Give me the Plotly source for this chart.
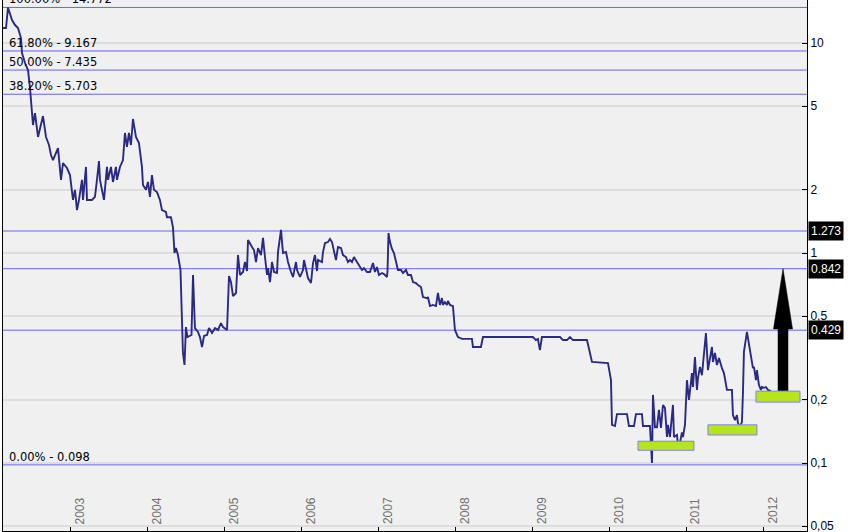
import math
import plotly.graph_objects as go

# ---------------- data ----------------
years = [2002.116, 2002.155, 2002.181, 2002.233, 2002.272, 2002.311, 2002.350, 2002.363, 2002.402, 2002.428,
         2002.441, 2002.467, 2002.493, 2002.506, 2002.532, 2002.571, 2002.636, 2002.675, 2002.714, 2002.740,
         2002.766, 2002.831, 2002.870, 2002.896, 2002.948, 2002.987, 2003.026, 2003.052, 2003.078, 2003.104,
         2003.143, 2003.156, 2003.195, 2003.208, 2003.273, 2003.312, 2003.338, 2003.364, 2003.377, 2003.403,
         2003.429, 2003.468, 2003.481, 2003.520, 2003.546, 2003.585, 2003.598, 2003.637, 2003.676, 2003.702,
         2003.728, 2003.754, 2003.780, 2003.806, 2003.845, 2003.884, 2003.923, 2003.936, 2003.975, 2004.001,
         2004.027, 2004.053, 2004.079, 2004.118, 2004.157, 2004.183, 2004.235, 2004.248, 2004.300, 2004.326,
         2004.333, 2004.346, 2004.365, 2004.391, 2004.424, 2004.437, 2004.456, 2004.476, 2004.495, 2004.515,
         2004.567, 2004.587, 2004.612, 2004.651, 2004.677, 2004.704, 2004.730, 2004.769, 2004.795, 2004.834,
         2004.873, 2004.912, 2004.951, 2004.977, 2005.029, 2005.055, 2005.081, 2005.107, 2005.146, 2005.172,
         2005.198, 2005.237, 2005.263, 2005.289, 2005.302, 2005.354, 2005.380, 2005.406, 2005.432, 2005.471,
         2005.497, 2005.523, 2005.549, 2005.562, 2005.588, 2005.614, 2005.640, 2005.679, 2005.692, 2005.731,
         2005.757, 2005.796, 2005.822, 2005.861, 2005.887, 2005.926, 2005.939, 2005.978, 2006.017, 2006.030,
         2006.056, 2006.082, 2006.121, 2006.147, 2006.173, 2006.199, 2006.212, 2006.264, 2006.277, 2006.303,
         2006.342, 2006.368, 2006.394, 2006.420, 2006.446, 2006.472, 2006.511, 2006.537, 2006.576, 2006.602,
         2006.628, 2006.654, 2006.680, 2006.719, 2006.745, 2006.784, 2006.810, 2006.849, 2006.888, 2006.927,
         2006.953, 2006.979, 2007.005, 2007.044, 2007.070, 2007.109, 2007.116, 2007.129, 2007.148, 2007.174,
         2007.200, 2007.239, 2007.252, 2007.291, 2007.317, 2007.356, 2007.382, 2007.421, 2007.447, 2007.486,
         2007.512, 2007.551, 2007.577, 2007.629, 2007.642, 2007.668, 2007.707, 2007.746, 2007.772, 2007.798,
         2007.824, 2007.837, 2007.863, 2007.889, 2007.902, 2007.928, 2007.967, 2007.993, 2008.032, 2008.084,
         2008.214, 2008.227, 2008.331, 2008.357, 2009.007, 2009.046, 2009.072, 2009.098, 2009.124, 2009.359,
         2009.398, 2009.450, 2009.489, 2009.528, 2009.710, 2009.775, 2009.983, 2010.022, 2010.035, 2010.074,
         2010.100, 2010.230, 2010.256, 2010.321, 2010.347, 2010.425, 2010.438, 2010.529, 2010.555, 2010.568,
         2010.594, 2010.620, 2010.646, 2010.672, 2010.698, 2010.724, 2010.750, 2010.763, 2010.789, 2010.828,
         2010.841, 2010.880, 2010.893, 2010.919, 2010.945, 2010.958, 2010.984, 2011.010, 2011.036, 2011.075,
         2011.088, 2011.114, 2011.140, 2011.153, 2011.179, 2011.205, 2011.231, 2011.257, 2011.283, 2011.309,
         2011.335, 2011.348, 2011.374, 2011.400, 2011.426, 2011.465, 2011.491, 2011.530, 2011.595, 2011.608,
         2011.634, 2011.660, 2011.673, 2011.699, 2011.725, 2011.738, 2011.751, 2011.790, 2011.803, 2011.842,
         2011.868, 2011.881, 2011.907, 2011.920, 2011.946, 2011.972, 2011.985, 2012.011, 2012.037, 2012.063,
         2012.102]

prices = [11.79, 11.79, 14.77, 12.87, 12.18, 11.79, 10.56, 8.96, 8.03, 7.69,
          7.44, 6.11, 4.80, 4.07, 4.64, 3.57, 4.49, 3.57, 3.27, 2.93,
          2.77, 3.16, 2.23, 2.68, 2.54, 2.35, 1.79, 2.00, 1.60, 1.79,
          2.23, 1.79, 2.57, 1.79, 1.79, 1.85, 2.23, 2.74, 2.23, 2.00,
          1.79, 2.57, 2.23, 2.57, 2.18, 2.57, 2.23, 2.57, 2.77, 3.73,
          3.20, 3.73, 3.27, 4.35, 3.57, 3.34, 2.57, 2.11, 2.00, 2.18,
          1.85, 2.35, 2.00, 1.95, 1.79, 1.60, 1.57, 1.48, 1.48, 1.33,
          1.116, 1.00, 1.056, 0.978, 0.830, 0.597, 0.334, 0.293, 0.444, 0.398,
          0.407, 0.786, 0.439, 0.421, 0.398, 0.357, 0.403, 0.407, 0.439, 0.416,
          0.439, 0.430, 0.464, 0.444, 0.430, 0.777, 0.727, 0.624, 0.645, 0.978,
          0.786, 0.812, 0.906, 0.821, 1.153, 1.068, 1.033, 0.906, 1.056, 0.978,
          1.18, 0.957, 0.786, 0.848, 0.727, 0.906, 0.812, 0.803, 1.011, 1.29,
          1.00, 1.011, 0.906, 0.812, 0.769, 0.906, 0.830, 0.769, 0.830, 0.926,
          0.848, 0.760, 0.720, 0.896, 0.978, 0.821, 0.926, 0.906, 1.011, 1.116,
          1.128, 1.166, 1.128, 1.033, 0.926, 1.068, 1.056, 0.978, 0.957, 0.906,
          0.926, 0.906, 0.957, 0.906, 0.877, 0.830, 0.848, 0.812, 0.812, 0.896,
          0.812, 0.858, 0.786, 0.803, 0.794, 0.769, 0.821, 1.245, 1.128, 1.045,
          1.00, 0.877, 0.830, 0.830, 0.803, 0.830, 0.786, 0.786, 0.727, 0.720,
          0.704, 0.689, 0.617, 0.610, 0.617, 0.559, 0.566, 0.559, 0.645, 0.566,
          0.610, 0.566, 0.584, 0.566, 0.591, 0.566, 0.559, 0.430, 0.398, 0.390,
          0.390, 0.357, 0.357, 0.398, 0.398, 0.385, 0.390, 0.345, 0.398, 0.398,
          0.385, 0.385, 0.398, 0.385, 0.385, 0.303, 0.299, 0.248, 0.152, 0.150,
          0.171, 0.171, 0.150, 0.150, 0.171, 0.171, 0.150, 0.150, 0.100, 0.211,
          0.148, 0.148, 0.179, 0.147, 0.189, 0.183, 0.133, 0.152, 0.133, 0.189,
          0.133, 0.136, 0.122, 0.1245, 0.140, 0.133, 0.152, 0.248, 0.200, 0.268,
          0.230, 0.320, 0.223, 0.254, 0.287, 0.262, 0.345, 0.416, 0.277, 0.309,
          0.357, 0.303, 0.334, 0.293, 0.316, 0.283, 0.268, 0.223, 0.223, 0.169,
          0.160, 0.169, 0.155, 0.148, 0.157, 0.215, 0.338, 0.421, 0.394, 0.334,
          0.283, 0.287, 0.248, 0.277, 0.235, 0.223, 0.230, 0.228, 0.230, 0.223,
          0.220]

# Fibonacci retracement levels (left labels)
fib_pcts = ["100.00%", "61.80%", "50.00%", "38.20%", "0.00%"]
fib_values = [14.772, 9.167, 7.435, 5.703, 0.098]

# Target levels (right boxed labels)
target_values = [1.273, 0.842, 0.429]
target_labels = ["1.273", "0.842", "0.429"]

# Highlight boxes: (x0, x1, y0, y1)
box_x0 = [2010.373, 2011.283, 2011.907]
box_x1 = [2011.101, 2011.920, 2012.480]
box_y0 = [0.115, 0.136, 0.195]
box_y1 = [0.127, 0.152, 0.220]

# Arrow (from third box up to the 0.842 target)
arrow_x = 2012.259
arrow_base = 0.220
arrow_head_base = 0.435
arrow_tip = 0.842
arrow_shaft_half = 0.065
arrow_head_half = 0.124

year_ticks = [2003, 2004, 2005, 2006, 2007, 2008, 2009, 2010, 2011, 2012]
year_labels = [str(y) for y in year_ticks]

y_tickvals = [0.05, 0.1, 0.2, 0.5, 1, 2, 5, 10]
y_ticktext = ["0,05", "0,1", "0,2", "0,5", "1", "2", "5", "10"]

x_range = [2002.116, 2012.571]
y_range_vals = [0.04745, 16.03]

# ---------------- figure ----------------
fig = go.Figure()

fig.add_trace(go.Scatter(
    x=years, y=prices, mode="lines",
    line=dict(color="#2a2a84", width=1.9),
    hoverinfo="skip", showlegend=False,
))

# arrow polygon
ax_pts = [arrow_x - arrow_shaft_half, arrow_x + arrow_shaft_half, arrow_x + arrow_shaft_half,
          arrow_x + arrow_head_half, arrow_x, arrow_x - arrow_head_half,
          arrow_x - arrow_shaft_half, arrow_x - arrow_shaft_half]
ay_pts = [arrow_base, arrow_base, arrow_head_base, arrow_head_base, arrow_tip,
          arrow_head_base, arrow_head_base, arrow_base]
fig.add_trace(go.Scatter(
    x=ax_pts, y=ay_pts, mode="lines", fill="toself",
    fillcolor="black", line=dict(color="black", width=0.5),
    hoverinfo="skip", showlegend=False,
))

shapes = []
fib_color = "#6464ee"
for v in fib_values + target_values:
    shapes.append(dict(type="line", xref="paper", x0=0, x1=1, yref="y", y0=v, y1=v,
                       line=dict(color=fib_color, width=1), layer="below"))
for i in range(len(box_x0)):
    shapes.append(dict(type="rect", xref="x", yref="y",
                       x0=box_x0[i], x1=box_x1[i], y0=box_y0[i], y1=box_y1[i],
                       fillcolor="#b5e61d", line=dict(color="#7f7ff5", width=1), layer="above"))

annotations = []
for p, v in zip(fib_pcts, fib_values):
    annotations.append(dict(
        text=f"{p} - {v:.3f}", xref="paper", x=0, xanchor="left", xshift=4,
        yref="y", y=math.log10(v), yanchor="bottom", yshift=-1,
        showarrow=False, font=dict(family="DejaVu Sans", size=11.5, color="black"),
    ))
for lab, v in zip(target_labels, target_values):
    annotations.append(dict(
        text=lab, xref="paper", x=1, xanchor="left", xshift=1,
        yref="y", y=math.log10(v), yanchor="middle",
        showarrow=False, bgcolor="black", borderpad=2,
        font=dict(family="Liberation Sans", size=12, color="white"),
    ))
for yv, lab in zip(year_ticks, year_labels):
    annotations.append(dict(
        text=lab, xref="x", x=yv, xanchor="center", xshift=9,
        yref="paper", y=0, yanchor="bottom", yshift=5,
        textangle=-90, showarrow=False,
        font=dict(family="Liberation Sans", size=12, color="#707070"),
    ))

fig.update_layout(
    width=851, height=532,
    margin=dict(l=3, r=44, t=0, b=1),
    paper_bgcolor="white", plot_bgcolor="#f0f0f0",
    shapes=shapes, annotations=annotations,
    showlegend=False,
    xaxis=dict(range=x_range, tickvals=year_ticks, showticklabels=False,
               ticks="inside", ticklen=4, tickcolor="black",
               showline=True, linecolor="black", linewidth=1,
               showgrid=False, zeroline=False, fixedrange=True, automargin=False),
    yaxis=dict(type="log", range=[math.log10(y_range_vals[0]), math.log10(y_range_vals[1])],
               side="right", tickvals=y_tickvals, ticktext=y_ticktext,
               ticks="inside", ticklen=5, tickcolor="black",
               showline=True, linecolor="black", linewidth=1, mirror=True,
               showgrid=True, gridcolor="#dddddd", gridwidth=2,
               zeroline=False, fixedrange=True, automargin=False,
               ticklabeloverflow="allow",
               tickfont=dict(family="Liberation Sans", size=12, color="black")),
)

fig.write_html(
    "out.html",
    config={"displayModeBar": False},
    post_script="document.body.style.margin='0';document.body.style.padding='0';"
                "document.body.style.overflow='hidden';",
)
